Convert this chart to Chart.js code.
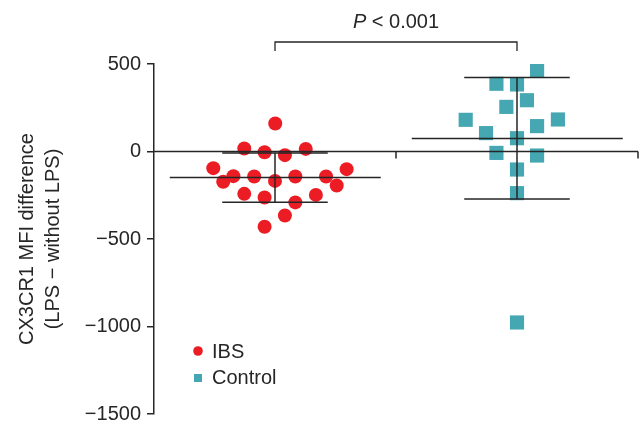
<!DOCTYPE html>
<html><head><meta charset="utf-8">
<script src="https://cdn.jsdelivr.net/npm/chart.js@4/dist/chart.umd.min.js"></script>
<style>html,body{margin:0;padding:0;background:#fff}#wrap{width:643px;height:424px}</style>
</head><body><div id="wrap"><canvas id="c" width="643" height="424"></canvas></div>
<script>
const groups = ['IBS', 'Control'];
const groupCenters = [0.5, 1.5];
const ibsX = [0.501,0.373,0.457,0.541,0.627,0.245,0.796,0.286,0.328,0.414,0.5,0.584,0.711,0.755,0.373,0.457,0.584,0.669,0.541,0.457];
const ibsY = [160,17,-4,-21,15,-95,-101,-173,-141,-143,-168,-143,-143,-194,-242,-263,-291,-248,-366,-430];
const ctrlX = [1.583,1.415,1.5,1.541,1.456,1.288,1.669,1.583,1.372,1.5,1.415,1.583,1.5,1.5,1.5];
const ctrlY = [465,387,383,293,255,181,183,145,105,76,-8,-23,-103,-238,-977];
const means = [-149, 74];
const sdUpper = [-8, 423];
const sdLower = [-290, -272];
const yTicks = [500, 0, -500, -1000, -1500];
const pLabel = '< 0.001';

const RED = '#EC1C24', TEAL = '#45A7B2', INK = '#262626';
const FONT = '"Liberation Sans", Arial, sans-serif';
const FS = 20;

const extras = {
  id: 'extras',
  afterDatasetsDraw(chart) {
    const {ctx, chartArea: a, scales: {x, y}} = chart;
    ctx.save();
    ctx.strokeStyle = INK;
    ctx.lineWidth = 1.5;
    const y0 = y.getPixelForValue(0);
    ctx.beginPath();
    ctx.moveTo(a.left, y0); ctx.lineTo(x.getPixelForValue(2), y0);
    [1, 2].forEach(v => { const px = x.getPixelForValue(v); ctx.moveTo(px, y0); ctx.lineTo(px, y0 + 7); });
    ctx.stroke();
    groupCenters.forEach((c, i) => {
      const cx = x.getPixelForValue(c);
      const ym = y.getPixelForValue(means[i]);
      const yu = y.getPixelForValue(sdUpper[i]);
      const yl = y.getPixelForValue(sdLower[i]);
      ctx.beginPath();
      ctx.moveTo(x.getPixelForValue(c - 0.435), ym); ctx.lineTo(x.getPixelForValue(c + 0.437), ym);
      ctx.moveTo(cx, yu); ctx.lineTo(cx, yl);
      ctx.moveTo(x.getPixelForValue(c - 0.218), yu); ctx.lineTo(x.getPixelForValue(c + 0.218), yu);
      ctx.moveTo(x.getPixelForValue(c - 0.218), yl); ctx.lineTo(x.getPixelForValue(c + 0.218), yl);
      ctx.stroke();
    });
    const bx1 = x.getPixelForValue(groupCenters[0]), bx2 = x.getPixelForValue(groupCenters[1]);
    const by = a.top - 22;
    ctx.lineWidth = 1.3;
    ctx.beginPath();
    ctx.moveTo(bx1, by + 9); ctx.lineTo(bx1, by); ctx.lineTo(bx2, by); ctx.lineTo(bx2, by + 9);
    ctx.stroke();
    ctx.fillStyle = INK;
    ctx.textBaseline = 'alphabetic';
    ctx.font = 'italic ' + FS + 'px ' + FONT;
    const wP = ctx.measureText('P').width;
    ctx.font = FS + 'px ' + FONT;
    const rest = ' ' + pLabel;
    const wR = ctx.measureText(rest).width;
    const mid = (bx1 + bx2) / 2;
    const sx = mid - (wP + wR) / 2;
    ctx.font = 'italic ' + FS + 'px ' + FONT;
    ctx.textAlign = 'left';
    ctx.fillText('P', sx, by - 14);
    ctx.font = FS + 'px ' + FONT;
    ctx.fillText(rest, sx + wP, by - 14);
    const lx = a.left + 44;
    ctx.fillStyle = RED;
    ctx.beginPath(); ctx.arc(lx, 351, 4.8, 0, Math.PI * 2); ctx.fill();
    ctx.fillStyle = TEAL;
    ctx.fillRect(lx - 4, 374, 8, 8);
    ctx.fillStyle = INK;
    ctx.font = FS + 'px ' + FONT;
    ctx.textBaseline = 'middle';
    ctx.fillText(groups[0], lx + 14, 352);
    ctx.fillText(groups[1], lx + 14, 378);
    ctx.restore();
  }
};

new Chart(document.getElementById('c'), {
  type: 'scatter',
  data: {
    datasets: [
      { label: groups[0], data: ibsX.map((v, i) => ({x: v, y: ibsY[i]})), pointStyle: 'circle', pointRadius: 7, pointHoverRadius: 7, backgroundColor: RED, borderWidth: 0 },
      { label: groups[1], data: ctrlX.map((v, i) => ({x: v, y: ctrlY[i]})), pointStyle: 'rect', pointRadius: 10, pointHoverRadius: 10, backgroundColor: TEAL, borderWidth: 0 }
    ]
  },
  options: {
    responsive: false,
    animation: false,
    events: [],
    layout: { autoPadding: false, padding: { top: 64, right: 5, bottom: 10, left: 0 } },
    plugins: { legend: { display: false }, tooltip: { enabled: false } },
    scales: {
      x: { type: 'linear', min: 0, max: 2, display: false },
      y: {
        min: -1500, max: 500,
        afterFit(s) { s.width = 154; s.paddingTop = 0; s.paddingBottom = 0; },
        afterBuildTicks(s) { s.ticks = yTicks.map(v => ({value: v})); },
        border: { display: true, color: INK, width: 1.5 },
        grid: { display: true, drawOnChartArea: false, drawTicks: true, tickLength: 7, color: INK, lineWidth: 1.5 },
        ticks: { color: INK, padding: 6, font: { family: FONT, size: FS }, callback: v => String(v).replace('-', '\u2212') },
        title: { display: true, text: ['CX3CR1 MFI difference', '(LPS \u2212 without LPS)'], color: INK, font: { family: FONT, size: FS, lineHeight: 1.3 }, padding: { top: 14, bottom: 0 } }
      }
    }
  },
  plugins: [extras]
});
</script></body></html>
